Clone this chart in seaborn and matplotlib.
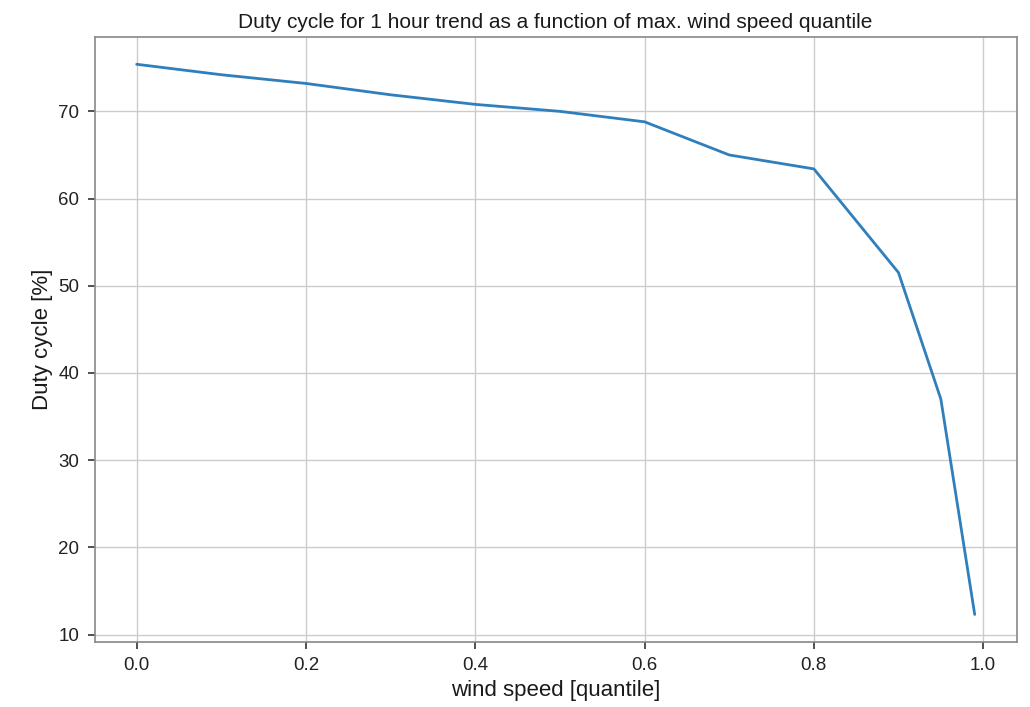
import matplotlib
matplotlib.use("Agg")
import matplotlib.pyplot as plt
import seaborn as sns
import pandas as pd

quantiles = [0.0, 0.1, 0.2, 0.3, 0.4, 0.5, 0.6, 0.7, 0.8, 0.9, 0.95, 0.99]
duty_cycle = [75.4, 74.2, 73.2, 71.9, 70.8, 70.0, 68.8, 65.0, 63.4, 51.5, 37.0, 12.3]

df = pd.DataFrame({"quantile": quantiles, "duty": duty_cycle})

sns.set_theme(style="whitegrid")
plt.rcParams.update({
    "font.family": ["Liberation Sans", "DejaVu Sans"],
    "xtick.bottom": True,
    "ytick.left": True,
    "xtick.direction": "out",
    "ytick.direction": "out",
    "xtick.major.size": 5,
    "ytick.major.size": 5,
    "xtick.major.width": 1.1,
    "ytick.major.width": 1.1,
    "xtick.color": "#222222",
    "ytick.color": "#222222",
})

fig = plt.figure(figsize=(10.3, 7.07), dpi=100)
ax = fig.add_axes([0.092, 0.092, 0.895, 0.856])
sns.lineplot(data=df, x="quantile", y="duty", ax=ax, color="#2f7fbc", linewidth=2)

ax.set_title("Duty cycle for 1 hour trend as a function of max. wind speed quantile",
             fontsize=15, color="#1a1a1a")
ax.set_xlabel("wind speed [quantile]", fontsize=16, color="#1a1a1a")
ax.set_ylabel("Duty cycle [%]", fontsize=16, color="#1a1a1a")
ax.tick_params(axis="both", which="major", labelsize=13.5, pad=6)
ax.grid(True, color="#cccccc", linewidth=1)
for s in ax.spines.values():
    s.set_color("#888888")
    s.set_linewidth(1.2)

fig.savefig("out.png", dpi=100)
